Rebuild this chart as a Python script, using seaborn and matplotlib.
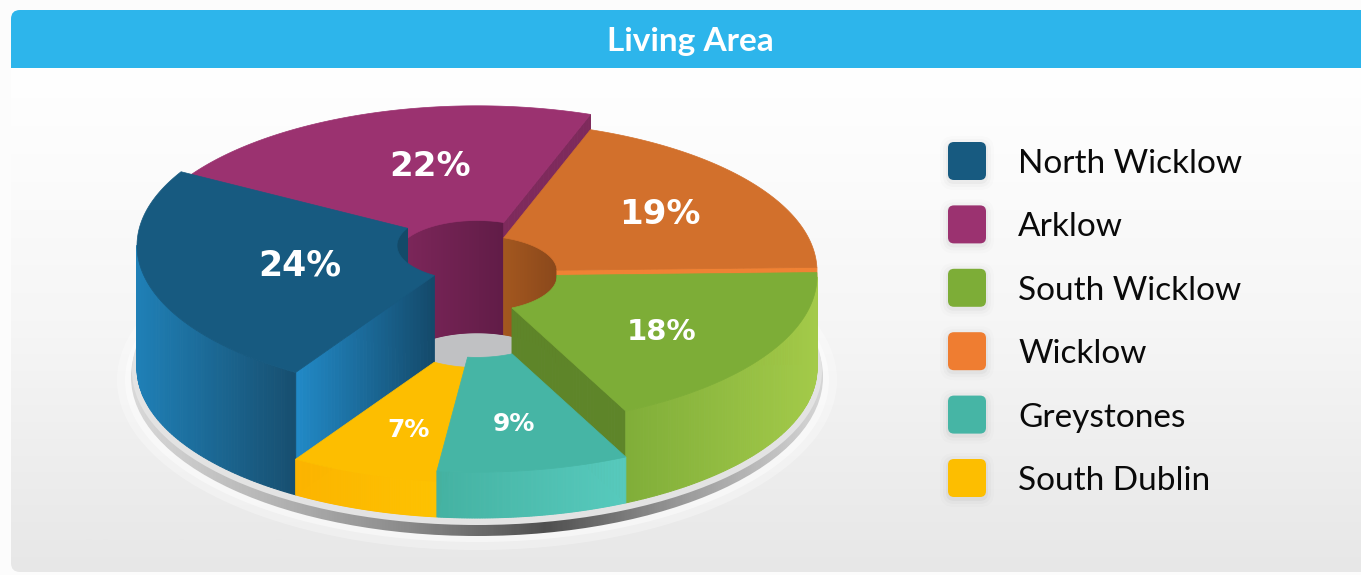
import numpy as np
import matplotlib.pyplot as plt
import seaborn as sns
from matplotlib.patches import Polygon, Ellipse, FancyBboxPatch, Rectangle
from matplotlib.colors import to_rgb, LinearSegmentedColormap

# Data (legend order)
regions = ['North Wicklow', 'Arklow', 'South Wicklow', 'Wicklow', 'Greystones', 'South Dublin']
share = [24, 22, 18, 19, 9, 7]
# slices clockwise around the pie, starting at the top
pie_regions = ['Wicklow', 'South Wicklow', 'Greystones', 'South Dublin', 'North Wicklow', 'Arklow']
title = 'Living Area'

sns.set_theme(style='white')
plt.rcParams['font.family'] = ['Lato', 'DejaVu Sans']

legend_colors = sns.color_palette(['#175a80', '#9b3270', '#7dad37', '#ef7d31', '#46b5a5', '#fdbe00'])

# per slice styling: top face, outer wall (left->right), cut face, inner wall
top_col = {'North Wicklow': '#175a80', 'Arklow': '#9b3270', 'South Wicklow': '#7dad37',
           'Wicklow': '#d2702c', 'Greystones': '#46b5a5', 'South Dublin': '#fdbe00'}
wall_col = {'North Wicklow': ('#1f80b7', '#174f70'), 'Arklow': ('#8a2a63', '#7a2558'),
            'South Wicklow': ('#80ae39', '#a3ca49'), 'Wicklow': ('#e07a30', '#d06a28'),
            'Greystones': ('#44b2a2', '#57cabd'), 'South Dublin': ('#fdb400', '#fec200')}
cut_col = {'North Wicklow': ('#2189c6', '#144a6b'), 'Arklow': ('#7e2a5c', '#7e2a5c'),
           'South Wicklow': ('#5e8529', '#5e8529'), 'Wicklow': ('#f08234', '#f08234'),
           'Greystones': ('#3fa596', '#3fa596'), 'South Dublin': ('#e8a800', '#e8a800')}
inner_col = {'North Wicklow': ('#134a69', '#134a69'), 'Arklow': ('#7b2659', '#611c47'),
             'South Wicklow': ('#5e8529', '#5e8529'), 'Wicklow': ('#a3571f', '#8a481b'),
             'Greystones': ('#3fa596', '#3fa596'), 'South Dublin': ('#e8a800', '#e8a800')}
label_size = {'North Wicklow': 25, 'Arklow': 24.5, 'South Wicklow': 21,
              'Wicklow': 24.5, 'Greystones': 18, 'South Dublin': 18}
label_shift = {'North Wicklow': (31, -3), 'Arklow': (28, -1), 'South Wicklow': (2, 7),
               'Wicklow': (9, -1), 'Greystones': (1, 9), 'South Dublin': (3, 9)}

W, H = 1361, 575
fig = plt.figure(figsize=(W / 100, H / 100), dpi=100, facecolor='#fcfcfc')
ax = fig.add_axes([0, 0, 1, 1])

# panel background with vertical gradient
panel = FancyBboxPatch((11, 10), 1420, 562, boxstyle='round,pad=0,rounding_size=9',
                       fc='none', ec='none', transform=ax.transData)
ax.add_patch(panel)
bg_cmap = LinearSegmentedColormap.from_list('bg', ['#ffffff', '#f6f6f6', '#e7e7e7'])
bg = ax.imshow(np.linspace(0, 1, 200).reshape(-1, 1), extent=(11, 1400, 575, 68),
               cmap=bg_cmap, aspect='auto', zorder=0)
bg.set_clip_path(panel)
bar = Rectangle((11, 10), 1400, 58, fc='#2db5eb', ec='none', zorder=1)
ax.add_patch(bar)
bar.set_clip_path(panel)
ax.text(690, 41, title, color='white', fontsize=24, fontweight='bold',
        ha='center', va='center', zorder=2)

# pie geometry
CX, CY = 477, 368
R, K, R_IN = 340, 150 / 340, 80
ZS = 5.1  # px of height per percent
START = 70.5


def proj(r, t, z):
    return CX + r * np.cos(t), CY - z - r * np.sin(t) * K


def shade(quads, c0, c1, zorder):
    if not quads:
        return
    xs = [np.mean([p[0] for p in q]) for q in quads]
    lo, hi = min(xs), max(xs)
    a, b = np.array(to_rgb(c0)), np.array(to_rgb(c1))
    for q, x in zip(quads, xs):
        f = 0 if hi == lo else (x - lo) / (hi - lo)
        col = (1 - f) * a + f * b
        ax.add_patch(Polygon(q, closed=True, fc=col, ec=col, lw=0.7, zorder=zorder))


# platform under the pie: glow, dark rim, light top
for gw, al in [(20, 0.3), (12, 0.45), (5, 0.75)]:
    ax.add_patch(Ellipse((CX, CY + 12), 2 * (R + gw), 2 * (R * K + gw), fc='white',
                         ec='none', alpha=al, zorder=3))
rim = Ellipse((CX, CY + 9), 2 * (R + 6), 2 * (R * K + 9), fc='none', ec='none',
              transform=ax.transData)
ax.add_patch(rim)
rim_cmap = LinearSegmentedColormap.from_list('rim', ['#d8d8d8', '#b5b5b5', '#8a8a8a',
                                                      '#4f4f4f', '#9a9a9a', '#d5d5d5'])
rimg = ax.imshow(np.linspace(0, 1, 300).reshape(1, -1), extent=(CX - R - 6, CX + R + 6, 540, 200),
                 cmap=rim_cmap, aspect='auto', zorder=4)
rimg.set_clip_path(rim)
ax.add_patch(Ellipse((CX, CY + 3), 2 * (R + 5), 2 * (R * K + 4), fc='#e3e3e3', ec='none', zorder=5))
# hole floor
ax.add_patch(Ellipse((CX, CY), 2 * R_IN, 2 * R_IN * K, fc='#c0c1c3', ec='none', zorder=6))

# slice angles
vals = [share[regions.index(n)] for n in pie_regions]
total = sum(vals)
bounds = START - np.concatenate([[0], np.cumsum(vals)]) / total * 360
slices = []
for i, name in enumerate(pie_regions):
    t0, t1 = np.radians(bounds[i + 1]), np.radians(bounds[i])
    slices.append((name, t0, t1, vals[i] * ZS, vals[i]))

# back to front
slices.sort(key=lambda s: -np.sin((s[1] + s[2]) / 2))
z = 10
for name, t0, t1, h, v in slices:
    ts = np.linspace(t0, t1, 120)
    # inner wall (back half of hole)
    quads = []
    for a, b in zip(ts[:-1], ts[1:]):
        if np.sin((a + b) / 2) > 0:
            quads.append([proj(R_IN, a, 0), proj(R_IN, b, 0), proj(R_IN, b, h), proj(R_IN, a, h)])
    shade(quads, *inner_col[name], z)
    # cut faces
    rs = np.linspace(R_IN, R, 40)
    for t, vis in [(t0, np.cos(t0) > 0), (t1, np.cos(t1) < 0)]:
        if vis:
            quads = [[proj(a, t, 0), proj(b, t, 0), proj(b, t, h), proj(a, t, h)]
                     for a, b in zip(rs[:-1], rs[1:])]
            shade(quads, *cut_col[name], z + 1)
    # outer wall (front half)
    quads = []
    for a, b in zip(ts[:-1], ts[1:]):
        if np.sin((a + b) / 2) < 0:
            quads.append([proj(R, a, 0), proj(R, b, 0), proj(R, b, h), proj(R, a, h)])
    shade(quads, *wall_col[name], z + 2)
    # top face
    pts = [proj(R, t, h) for t in ts] + [proj(R_IN, t, h) for t in ts[::-1]]
    col = top_col[name]
    ax.add_patch(Polygon(pts, closed=True, fc=col, ec=col, lw=0.5, zorder=z + 3))
    # percent label
    mid = (t0 + t1) / 2
    lx, ly = proj(0.63 * R, mid, h)
    dx, dy = label_shift[name]
    ax.text(lx + dx, ly + dy, f'{v}%', color='white', fontsize=label_size[name],
            fontweight='bold', family='DejaVu Sans', ha='center', va='center', zorder=100)
    z += 5

# legend
for i, (name, col) in enumerate(zip(regions, legend_colors)):
    y = 161 + i * 63.4
    for s, al in [(8, 0.012), (5, 0.02), (2, 0.03)]:
        ax.add_patch(FancyBboxPatch((948 - s, y - 19 - s + 2), 38 + 2 * s, 38 + 2 * s,
                                    boxstyle=f'round,pad=0,rounding_size={6 + s}',
                                    fc='black', ec='none', alpha=al, zorder=50))
    ax.add_patch(FancyBboxPatch((948, y - 19), 38, 38, boxstyle='round,pad=0,rounding_size=6',
                                fc=col, ec='none', zorder=51))
    ax.text(1018, y + 3, name, color='#0a0a0a', fontsize=24, ha='left', va='center', zorder=52)

ax.set_xlim(0, W)
ax.set_ylim(H, 0)
ax.axis('off')
fig.savefig('out.png', dpi=100, facecolor=fig.get_facecolor())
